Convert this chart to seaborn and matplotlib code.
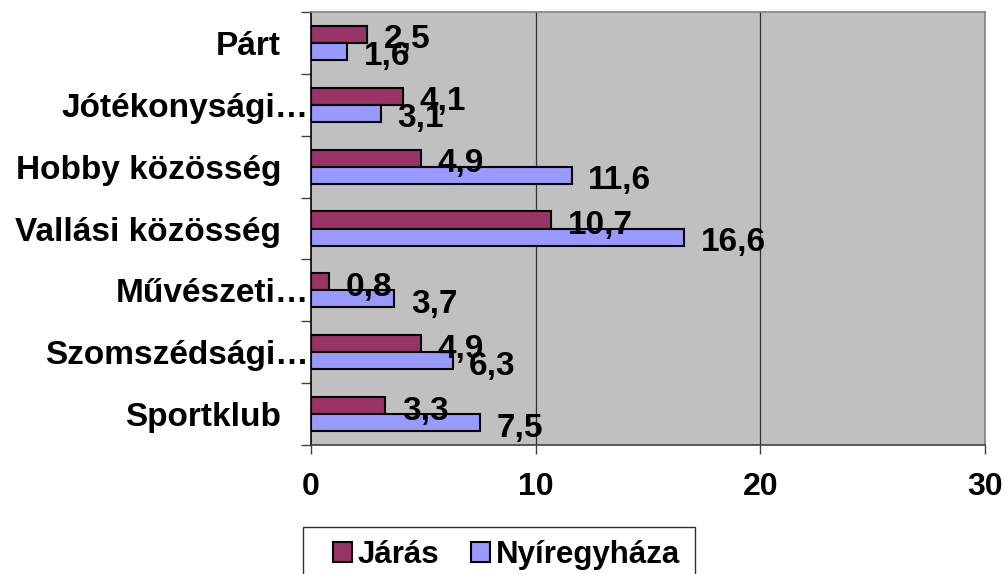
import pandas as pd
import seaborn as sns
import matplotlib.pyplot as plt
from matplotlib.patches import Rectangle
from matplotlib.transforms import ScaledTranslation

# data
categories = ['Párt', 'Jótékonysági…', 'Hobby közösség', 'Vallási közösség',
              'Művészeti…', 'Szomszédsági…', 'Sportklub']
jaras = [2.5, 4.1, 4.9, 10.7, 0.8, 4.9, 3.3]
nyiregyhaza = [1.6, 3.1, 11.6, 16.6, 3.7, 6.3, 7.5]
series_names = ['Járás', 'Nyíregyháza']
x_ticks = [0, 10, 20, 30]

df = pd.DataFrame({
    'category': categories * 2,
    'value': jaras + nyiregyhaza,
    'series': [series_names[0]] * len(categories) + [series_names[1]] * len(categories),
})

sns.set_style('white')
plt.rcParams['font.family'] = ['Liberation Sans', 'DejaVu Sans']
plt.rcParams['font.weight'] = 'bold'
plt.rcParams['text.color'] = 'black'
plt.rcParams['xtick.color'] = 'black'
plt.rcParams['ytick.color'] = 'black'
plt.rcParams['xtick.labelcolor'] = 'black'
plt.rcParams['ytick.labelcolor'] = 'black'

fig = plt.figure(figsize=(10.05, 5.74), dpi=100)
ax = fig.add_axes([0.3095, 0.2247, 0.6706, 0.7544])
ax.set_facecolor('#C0C0C0')

palette = {'Járás': '#993366', 'Nyíregyháza': '#9999FF'}
sns.barplot(data=df, x='value', y='category', hue='series', order=categories,
            hue_order=series_names, palette=palette, width=0.55, orient='h',
            edgecolor='black', linewidth=1.5, saturation=1, ax=ax, zorder=3)

ax.set_xlim(0, 30)
ax.set_ylim(len(categories) - 0.5, -0.5)
ax.set_xticks(x_ticks)
ax.set_xticklabels([str(t) for t in x_ticks], fontsize=23, fontweight='bold', color='black')
ax.set_xlabel('')
ax.set_ylabel('')

# vertical gridlines
for t in x_ticks[1:-1]:
    ax.axvline(t, color='#303030', lw=0.9, zorder=1)

# value labels with comma decimals
for cont in ax.containers:
    for bar in cont:
        w = bar.get_width()
        yc = bar.get_y() + bar.get_height() / 2
        ax.annotate(f'{w:.1f}'.replace('.', ','), (w, yc), xytext=(12, -4),
                    textcoords='offset points', ha='left', va='center', color='black',
                    fontsize=24, fontweight='bold', zorder=4, annotation_clip=False)

# spines
for side in ['top', 'right']:
    ax.spines[side].set_color('#808080')
    ax.spines[side].set_linewidth(1.2)
ax.spines['left'].set_color('black')
ax.spines['bottom'].set_color('#404040')
for side in ['left', 'bottom']:
    ax.spines[side].set_linewidth(1.2)

# ticks: y ticks at category boundaries only
ax.set_yticks([i - 0.5 for i in range(len(categories) + 1)], minor=True)
ax.tick_params(axis='y', which='major', length=0, pad=21.5, labelsize=24, labelcolor='black')
ax.tick_params(axis='y', which='minor', length=7, width=1, color='#404040', direction='out', left=True)
ax.tick_params(axis='x', which='major', length=6.5, width=1, color='#404040', direction='out',
               pad=13, bottom=True, labelcolor='black')
for lab in ax.get_yticklabels():
    lab.set_fontweight('bold')
    if lab.get_text().endswith('…'):
        lab.set_transform(lab.get_transform() + ScaledTranslation(20 / 72, 0, fig.dpi_scale_trans))

# legend at the bottom, with its own box (wider side margins than top margin)
ax.legend_.remove()
handles, labels = ax.get_legend_handles_labels()
leg = fig.legend(handles, labels, loc='upper left', bbox_to_anchor=(333 / 1005, 1 - 540 / 574),
                 ncol=2, frameon=False, prop={'size': 22.5, 'weight': 'bold'},
                 handlelength=0.6, handleheight=0.6, handletextpad=0.2, columnspacing=1.0,
                 borderpad=0, borderaxespad=0)
for h in leg.legend_handles:
    h.set_edgecolor('black')
    h.set_linewidth(1.5)
fig.patches.append(Rectangle((303 / 1005, -0.05), 392 / 1005, 0.05 + 47 / 574,
                             transform=fig.transFigure, fill=False, edgecolor='#303030',
                             linewidth=1.0))

fig.savefig('out.png', dpi=100)
